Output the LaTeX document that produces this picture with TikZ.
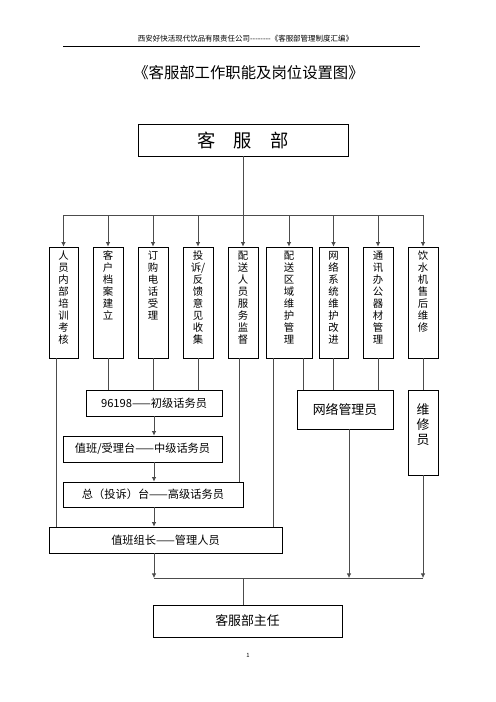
\documentclass[tikz,border=0pt]{standalone}
\usepackage{fontspec}
\setmainfont[Ligatures=TeXOff]{Noto Sans CJK SC}
\usetikzlibrary{arrows.meta}

\begin{document}
\begin{tikzpicture}[x=1.2bp,y=-1.2bp,
    box/.style={draw,line width=.9bp,inner sep=0pt},
    link/.style={draw=black!70,line width=.9bp},
    arr/.style={link,-{Latex[length=5.5bp,width=5.5bp]}},
    coltext/.style={anchor=north,align=center,inner sep=0pt,font=\fontsize{12.5}{14.5}\selectfont},
    stafftext/.style={font=\fontsize{13.5}{15}\selectfont},
    bigtext/.style={font=\fontsize{15.5}{18}\selectfont}]
    \useasboundingbox (0,0) rectangle (496,702);

    \node[font=\fontsize{9}{10}\selectfont] (hdr) at (245.5,39) {西安好快活现代饮品有限责任公司--------《客服部管理制度汇编》};
    \coordinate (hl) at (63,46);
    \coordinate (hr) at (420,46);
    \draw[line width=.9bp] (hl) -- (hr);
    \node[font=\fontsize{18.5}{20}\selectfont] (title) at (248.5,73) {《客服部工作职能及岗位设置图》};

    \node[box,minimum width=252bp,minimum height=38.4bp,font=\fontsize{22}{24}\selectfont] (top) at (243,140) {客　服　部};
    \coordinate (bus) at (243,215);
    \draw[link] (top) -- (bus);

    \foreach \i/\x/\w/\txt in {1/63.5/34.8/{人\\员\\内\\部\\培\\训\\考\\核},
                              2/108/36/{客\\户\\档\\案\\建\\立},
                              3/153/36/{订\\购\\电\\话\\受\\理},
                              4/198/36/{投\\诉/\\反\\馈\\意\\见\\收\\集},
                              5/243/36/{配\\送\\人\\员\\服\\务\\监\\督},
                              6/289/55.2/{配\\送\\区\\域\\维\\护\\管\\理},
                              7/333.5/34.8/{网\\络\\系\\统\\维\\护\\改\\进},
                              8/378/36/{通\\讯\\办\\公\\器\\材\\管\\理},
                              9/423/36/{饮\\水\\机\\售\\后\\维\\修}}
    {
        \node[box,minimum width=\w bp,minimum height=133.2bp] (c\i) at (\x,302.5) {};
        \node[coltext] (t\i) at ([yshift=-5bp]c\i.north) {\txt};
        \draw[arr] (c\i.north |- bus) -- (c\i.north);
    }
    \draw[link] (c1.north |- bus) -- (c9.north |- bus);

    \node[box,stafftext,minimum width=163.2bp,minimum height=31.2bp] (l1) at (154,403) {96198——初级话务员};
    \node[box,stafftext,minimum width=190.8bp,minimum height=31.2bp] (l2) at (142.5,449) {值班/受理台——中级话务员};
    \node[box,stafftext,minimum width=216bp,minimum height=30bp] (l3) at (153,494.5) {总（投诉）台——高级话务员};
    \node[box,stafftext,minimum width=279.6bp,minimum height=31.2bp] (lead) at (165.5,540) {值班组长——管理人员};
    \node[box,bigtext,minimum width=115.2bp,minimum height=46.8bp] (net) at (345,409.5) {网络管理员};
    \node[box,minimum width=36bp,minimum height=102bp] (rep) at (423,432.5) {};
    \node[coltext,bigtext] (t10) at ([yshift=-17bp]rep.north) {维\\修\\员};
    \node[box,bigtext,minimum width=226.8bp,minimum height=38.4bp] (head) at (247.5,621) {客服部主任};

    \draw[link] (c1.south -| 56,0) -- (lead.north -| 56,0);
    \draw[link] (c2.south) -- (c2.south |- l1.north);
    \draw[link] (c3.south) -- (c3.south |- l1.north);
    \draw[link] (c4.south) -- (c4.south |- l1.north);
    \draw[link] (c5.south -| 239,0) -- (l3.north -| 239,0);
    \draw[link] (c6.south -| 273,0) -- (lead.north -| 273,0);
    \draw[link] (c6.south -| 303,0) -- (net.north -| 303,0);
    \draw[link] (c7.south) -- (c7.south |- net.north);
    \draw[link] (c8.south) -- (c8.south |- net.north);
    \draw[link] (c9.south) -- (rep.north);

    \coordinate (base) at (243,578);
    \draw[arr] (l1.south) -- (l1.south |- l2.north);
    \draw[arr] (l1.south |- l2.south) -- (l1.south |- l3.north);
    \draw[arr] (l1.south |- l3.south) -- (l1.south |- lead.north);
    \draw[arr] (l1.south |- lead.south) -- (l1.south |- base);
    \draw[arr] (net.south -| 349,0) -- (base -| 349,0);
    \draw[arr] (rep.south) -- (rep.south |- base);
    \draw[link] (l1.south |- base) -- (rep.south |- base);
    \draw[link] (base) -- (base |- head.north);

    \node[font=\fontsize{7}{8}\selectfont] (pg) at (248,655) {1};
\end{tikzpicture}
\end{document}
